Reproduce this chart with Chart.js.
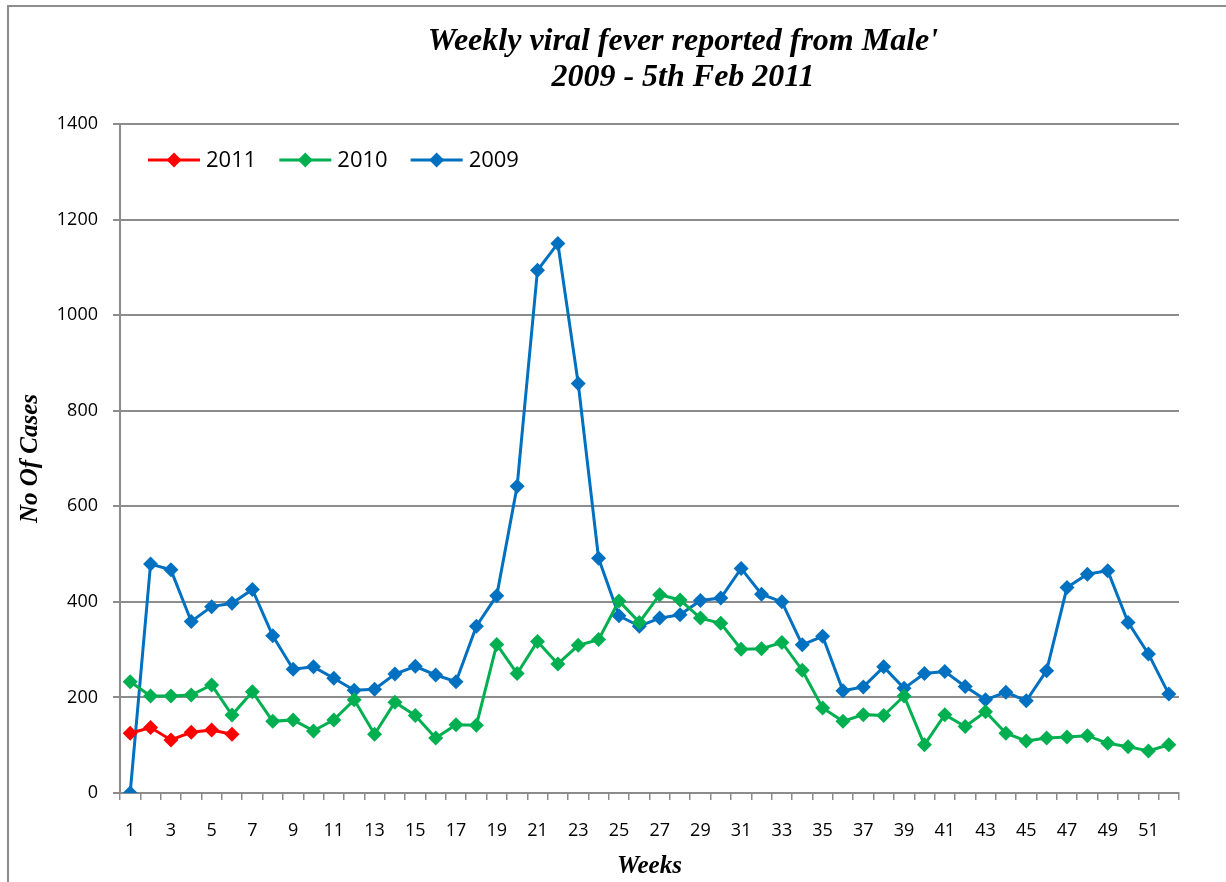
<!DOCTYPE html>
<html>
<head>
<meta charset="utf-8">
<script src="https://cdn.jsdelivr.net/npm/chart.js@4"></script>
<style>
html, body { margin: 0; padding: 0; background: #fff; }
#wrap { position: relative; width: 1226px; height: 882px; overflow: hidden; }
#frame { position: absolute; left: 7px; top: 5px; right: -5px; bottom: -10px; border-left: 2px solid #8c8c8c; border-top: 2px solid #8c8c8c; }
canvas { position: absolute; left: 0; top: 0; }
</style>
</head>
<body>
<div id="wrap">
  <div id="frame"></div>
  <canvas id="fever-chart" width="1226" height="882"></canvas>
</div>
<script>
const weeks = ["1","2","3","4","5","6","7","8","9","10","11","12","13","14","15","16","17","18","19","20","21","22","23","24","25","26",
               "27","28","29","30","31","32","33","34","35","36","37","38","39","40","41","42","43","44","45","46","47","48","49","50","51","52"];

const cases2011 = [125, 137, 111, 127, 132, 123];
const cases2010 = [233, 203, 203, 205, 226, 163, 212, 150, 153, 130, 153, 195, 123, 190, 162, 115, 143, 142, 311, 250, 317, 270, 309, 321, 402, 357,
                   415, 404, 366, 355, 301, 302, 315, 257, 178, 150, 164, 162, 203, 101, 164, 139, 170, 125, 109, 115, 117, 120, 104, 97, 88, 101];
const cases2009 = [0, 479, 467, 359, 390, 397, 426, 329, 259, 264, 240, 215, 217, 249, 265, 247, 233, 349, 413, 642, 1094, 1150, 857, 491, 371, 349,
                   366, 373, 403, 408, 470, 416, 400, 310, 328, 214, 222, 264, 219, 250, 254, 223, 195, 211, 193, 256, 430, 458, 465, 357, 291, 207];

const titleLines = ["Weekly viral fever reported from Male'", "2009 - 5th Feb 2011"];
const yTicks = [0, 200, 400, 600, 800, 1000, 1200, 1400];

const axisGrey = '#8c8c8c';
const serif = '"Liberation Serif", "Times New Roman", serif';
const sans = '"Open Sans", "Noto Sans", sans-serif';

const makeSet = (label, data, color, order) => ({
    label: label,
    data: data,
    borderColor: color,
    backgroundColor: color,
    borderWidth: 3,
    pointStyle: 'rectRot',
    pointRadius: 7.5,
    pointBorderWidth: 0,
    pointBackgroundColor: color,
    tension: 0,
    order: order
});

// title drawn by hand so it can sit where the original had it
const titlePlugin = {
    id: 'twoLineTitle',
    afterDraw(chart) {
        const c = chart.ctx;
        c.save();
        c.fillStyle = '#000';
        c.font = 'italic bold 32px ' + serif;
        c.textAlign = 'center';
        c.textBaseline = 'middle';
        c.fillText(titleLines[0], 683, 42);
        c.fillText(titleLines[1], 683, 78);
        c.restore();
    }
};

// excel style legend: short line with a diamond, inside the plot
const legendPlugin = {
    id: 'lineLegend',
    afterDraw(chart) {
        const c = chart.ctx;
        const y = 160;
        let x = chart.chartArea.left + 28;
        c.save();
        c.font = '22px ' + sans;
        c.textBaseline = 'middle';
        c.textAlign = 'left';
        chart.data.datasets.forEach((ds) => {
            c.strokeStyle = ds.borderColor;
            c.lineWidth = 3;
            c.beginPath();
            c.moveTo(x, y);
            c.lineTo(x + 52, y);
            c.stroke();
            c.fillStyle = ds.borderColor;
            c.beginPath();
            c.moveTo(x + 26, y - 7.5);
            c.lineTo(x + 33.5, y);
            c.lineTo(x + 26, y + 7.5);
            c.lineTo(x + 18.5, y);
            c.closePath();
            c.fill();
            c.fillStyle = '#000';
            c.fillText(ds.label, x + 58, y + 1);
            x += 58 + c.measureText(ds.label).width + 23;
        });
        c.restore();
    }
};

var ctx = document.getElementById('fever-chart');

var chart = new Chart(ctx, {
    type: 'line',
    data: {
        labels: weeks,
        datasets: [
            makeSet('2011', cases2011, '#ff0000', 1),
            makeSet('2010', cases2010, '#00b050', 2),
            makeSet('2009', cases2009, '#0070c0', 3)
        ]
    },
    options: {
        responsive: false,
        animation: false,
        layout: { padding: { left: 0, top: 124, right: 47, bottom: 0 } },
        plugins: {
            legend: { display: false },
            title: { display: false },
            tooltip: { enabled: false }
        },
        scales: {
            x: {
                type: 'category',
                offset: true,
                afterFit: (scale) => { scale.height = 89; },
                grid: {
                    display: true,
                    drawOnChartArea: false,
                    drawTicks: true,
                    tickLength: 7,
                    offset: true,
                    color: axisGrey,
                    lineWidth: 1.5
                },
                border: { color: axisGrey, width: 2 },
                ticks: {
                    autoSkip: false,
                    maxRotation: 0,
                    padding: 20,
                    color: '#000',
                    font: { family: sans, size: 18 },
                    callback: (v, i) => (i % 2 === 0 ? weeks[i] : '')
                },
                title: {
                    display: true,
                    text: 'Weeks',
                    color: '#000',
                    font: { family: serif, size: 25, style: 'italic', weight: 'bold' },
                    padding: { top: 0, bottom: 0 }
                }
            },
            y: {
                min: 0,
                max: 1400,
                afterFit: (scale) => { scale.width = 120; },
                afterBuildTicks: (scale) => { scale.ticks = yTicks.map(v => ({ value: v })); },
                grid: {
                    color: axisGrey,
                    lineWidth: 2,
                    tickLength: 7
                },
                border: { color: axisGrey, width: 2 },
                ticks: {
                    padding: 15,
                    color: '#000',
                    font: { family: sans, size: 18 },
                    callback: (v) => String(v)
                },
                title: {
                    display: true,
                    text: 'No Of Cases',
                    color: '#000',
                    font: { family: serif, size: 25, style: 'italic', weight: 'bold' },
                    padding: { top: 16, bottom: 0 }
                }
            }
        }
    },
    plugins: [titlePlugin, legendPlugin]
});
</script>
</body>
</html>
